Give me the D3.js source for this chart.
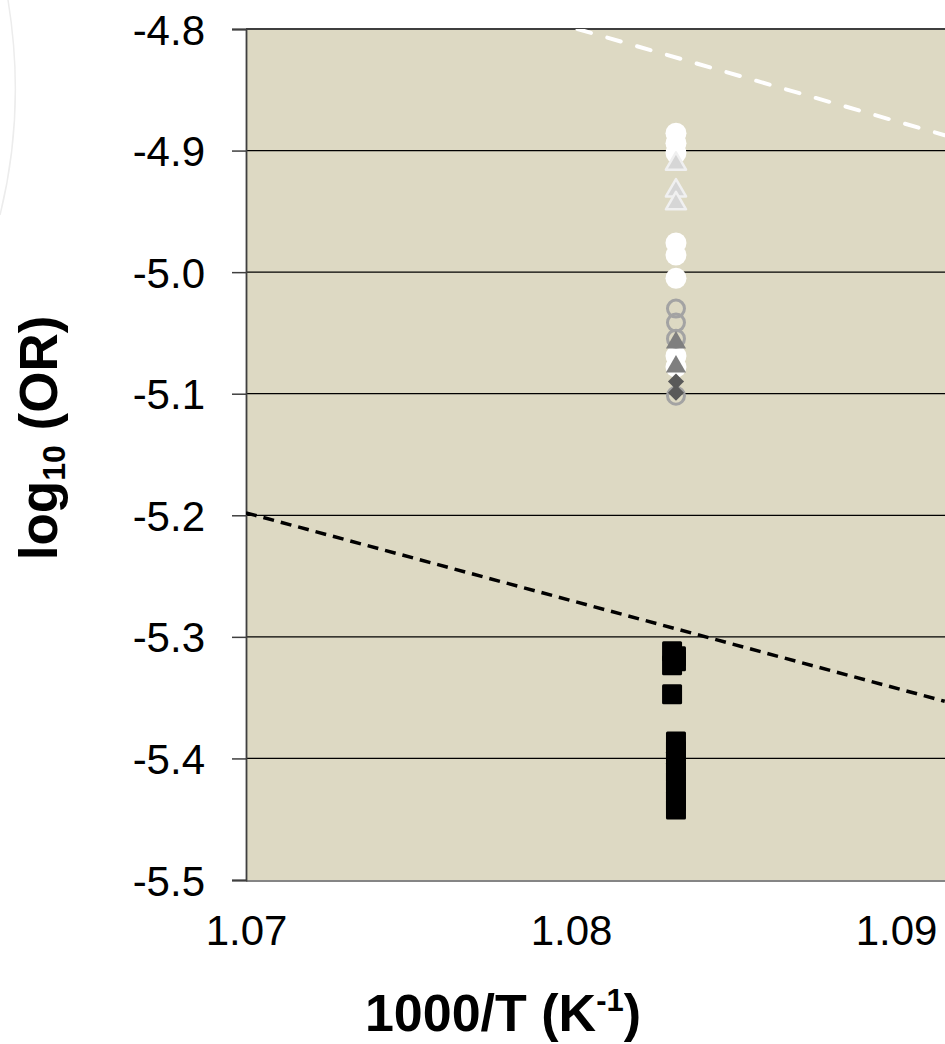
<!DOCTYPE html>
<html>
<head>
<meta charset="utf-8">
<script src="https://cdn.jsdelivr.net/npm/d3@7"></script>
<style>
  html, body { margin: 0; padding: 0; background: #fff; }
  svg { display: block; }
  text { font-family: Arial, "Liberation Sans", sans-serif; fill: #000; }
</style>
</head>
<body>
<svg id="chart" width="945" height="1044"></svg>
<script>
// ---- data ----
const xTicks = [1.07, 1.08, 1.09];
const yTicks = [-4.8, -4.9, -5.0, -5.1, -5.2, -5.3, -5.4, -5.5];
const xTickLabels = ["1.07", "1.08", "1.09"];
const yTickLabels = ["-4.8", "-4.9", "-5.0", "-5.1", "-5.2", "-5.3", "-5.4", "-5.5"];

const markerX = 1.08323;
const whiteCircles = [-4.8857, -4.894, -4.902, -4.976, -4.986, -5.005, -5.069, -5.078];
const lightTriangles = [-4.911, -4.933, -4.9435];
const grayRings = [-5.030, -5.0415, -5.0547, -5.1017];
const darkTriangles = [-5.058, -5.0777];
const diamonds = [-5.090, -5.0992];

const squaresX = [1.08311, 1.08311, 1.08323, 1.08323, 1.08311,
                  1.08323, 1.08323, 1.08323, 1.08323, 1.08323, 1.08323, 1.08323, 1.08323];
const squaresY = [-5.3118, -5.3233, -5.3160, -5.3200, -5.3473,
                  -5.386, -5.394, -5.402, -5.411, -5.419, -5.427, -5.435, -5.442];

const whiteLineX = [1.0802, 1.0915];
const whiteLineY = [-4.8, -4.8874];
const blackLineX = [1.07, 1.0915];
const blackLineY = [-5.198, -5.353];

// ---- layout ----
const svg = d3.select("#chart");
const pLeft = 246, pRight = 945, pTop = 29, pBottom = 880;
const x = d3.scaleLinear().domain([1.07, 1.0915]).range([pLeft, 944.75]);
const y = d3.scaleLinear().domain([-5.5, -4.8]).range([pBottom, pTop]);

// faint decorative arc at the far left
svg.append("path")
  .attr("d", "M 8 0 Q 26 110 0 215")
  .attr("fill", "none").attr("stroke", "#ececec").attr("stroke-width", 1.5);

// plot background
svg.append("rect")
  .attr("x", pLeft).attr("y", pTop)
  .attr("width", pRight - pLeft).attr("height", pBottom - pTop)
  .attr("fill", "#DDD9C3");

svg.append("defs").append("clipPath").attr("id", "plotclip")
  .append("rect").attr("x", pLeft).attr("y", pTop)
  .attr("width", pRight - pLeft).attr("height", pBottom - pTop);

// gridlines
svg.append("g").selectAll("line")
  .data(yTicks.filter(t => t > -5.5 && t < -4.8))
  .join("line")
  .attr("x1", pLeft).attr("x2", pRight)
  .attr("y1", d => y(d)).attr("y2", d => y(d))
  .attr("stroke", "#000").attr("stroke-width", 1.2);

// borders
svg.append("line").attr("x1", pLeft).attr("x2", pRight)
  .attr("y1", y(-4.8)).attr("y2", y(-4.8))
  .attr("stroke", "#3f3f3f").attr("stroke-width", 2);
svg.append("line").attr("x1", pLeft).attr("x2", pRight)
  .attr("y1", y(-5.5) + 1).attr("y2", y(-5.5) + 1)
  .attr("stroke", "#858585").attr("stroke-width", 2);

// y axis
const yAxis = d3.axisLeft(y).tickValues(yTicks)
  .tickFormat((d, i) => yTickLabels[i]).tickSize(14).tickPadding(27);
const ga = svg.append("g").attr("transform", `translate(${pLeft},0)`).call(yAxis);
ga.select(".domain").attr("stroke", "#3f3f3f").attr("stroke-width", 1.8);
ga.selectAll(".tick line").attr("stroke", "#3f3f3f").attr("stroke-width", 1.5);
ga.selectAll(".tick text").attr("font-size", 42).attr("font-family", "Arial, 'Liberation Sans', sans-serif")
  .attr("fill", "#000").attr("dy", "0.36em");

// x axis
const xAxis = d3.axisBottom(x).tickValues(xTicks)
  .tickFormat((d, i) => xTickLabels[i]).tickSize(0).tickPadding(35);
const gx = svg.append("g").attr("transform", `translate(0,${pBottom})`).call(xAxis);
gx.select(".domain").remove();
gx.selectAll(".tick text").attr("font-size", 42).attr("font-family", "Arial, 'Liberation Sans', sans-serif")
  .attr("fill", "#000").attr("dy", "0.71em");

// lines
const lineGen = d3.line().x(d => x(d[0])).y(d => y(d[1]));
const plot = svg.append("g").attr("clip-path", "url(#plotclip)");
plot.append("path")
  .attr("d", lineGen(whiteLineX.map((v, i) => [v, whiteLineY[i]])))
  .attr("fill", "none").attr("stroke", "#fff").attr("stroke-width", 4)
  .attr("stroke-dasharray", "14,17").attr("stroke-linecap", "round");
plot.append("path")
  .attr("d", lineGen(blackLineX.map((v, i) => [v, blackLineY[i]])))
  .attr("fill", "none").attr("stroke", "#000").attr("stroke-width", 3.5)
  .attr("stroke-dasharray", "11,7");

// markers
const sym = (type, size) => d3.symbol().type(type).size(size)();
const mk = plot.append("g");

mk.selectAll(".wc").data(whiteCircles).join("circle")
  .attr("cx", x(markerX)).attr("cy", d => y(d)).attr("r", 10.5)
  .attr("fill", "#fff");

mk.selectAll(".lt").data(lightTriangles).join("path")
  .attr("d", sym(d3.symbolTriangle, 175))
  .attr("transform", d => `translate(${x(markerX)},${y(d)})`)
  .attr("fill", "#d6d6d6").attr("stroke", "#f0f0f0").attr("stroke-width", 2.5)
  .attr("stroke-linejoin", "round");

mk.selectAll(".gr").data(grayRings).join("circle")
  .attr("cx", x(markerX)).attr("cy", d => y(d)).attr("r", 8.5)
  .attr("fill", "none").attr("stroke", "#a3a3a3").attr("stroke-width", 3);

mk.selectAll(".dt").data(darkTriangles).join("path")
  .attr("d", sym(d3.symbolTriangle, 175))
  .attr("transform", d => `translate(${x(markerX)},${y(d)})`)
  .attr("fill", "#7f7f7f");

mk.selectAll(".dm").data(diamonds).join("path")
  .attr("d", d3.symbol().type(d3.symbolSquare).size(130)())
  .attr("transform", d => `translate(${x(markerX)},${y(d)}) rotate(45)`)
  .attr("fill", "#595959");

mk.selectAll(".sq").data(squaresY).join("rect")
  .attr("x", (d, i) => x(squaresX[i]) - 10)
  .attr("y", d => y(d) - 10)
  .attr("width", 20).attr("height", 20).attr("rx", 1.5)
  .attr("fill", "#000");

// axis titles
const xt = svg.append("text").attr("x", 503).attr("y", 1031)
  .attr("text-anchor", "middle").attr("font-size", 52).attr("font-weight", "bold");
xt.append("tspan").text("1000/T (K");
xt.append("tspan").attr("font-size", 31).attr("dy", -20).text("-1");
xt.append("tspan").attr("dy", 20).text(")");

const yt = svg.append("text")
  .attr("transform", "translate(57,438) rotate(-90)")
  .attr("text-anchor", "middle").attr("font-size", 53).attr("font-weight", "bold");
yt.append("tspan").text("log");
yt.append("tspan").attr("font-size", 32).attr("dy", 8).text("10");
yt.append("tspan").attr("dy", -8).text(" (OR)");
</script>
</body>
</html>
